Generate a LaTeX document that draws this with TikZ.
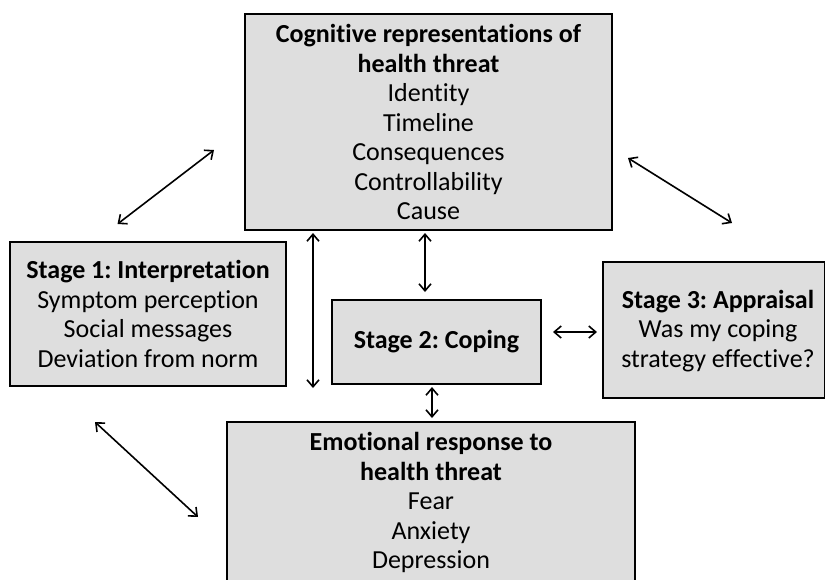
\documentclass[tikz,border=0pt]{standalone}
\usepackage{fontspec}
\setmainfont{Carlito}[Ligatures={NoCommon}]
\usetikzlibrary{arrows.meta}
\definecolor{boxfill}{RGB}{222,222,222}
\tikzset{
  box/.style={draw=black, line width=2pt, fill=boxfill, inner sep=0pt, align=center,
    font=\fontsize{26}{29.5}\selectfont\frenchspacing},
  txt/.style={inner sep=0pt, align=center, font=\fontsize{26}{29.5}\selectfont\frenchspacing},
  dbl/.style={line width=1.6pt, {Straight Barb[length=7pt,width=12pt]}-{Straight Barb[length=7pt,width=12pt]}}
}
\begin{document}
\begin{tikzpicture}[x=1pt,y=-1pt]
\useasboundingbox (0,0) rectangle (825,579);
% boxes
\node[box, minimum width=367, minimum height=216] (cog) at (428.5,122)
  {\textbf{Cognitive representations of}\\\textbf{health threat}\\Identity\\Timeline\\Consequences\\Controllability\\Cause};
\node[box, minimum width=276, minimum height=144] (s1) at (148,314)
  {\textbf{Stage 1: Interpretation}\\Symptom perception\\Social messages\\Deviation from norm};
\node[box, minimum width=209, minimum height=84] (s2) at (436.5,342)
  {\textbf{Stage 2: Coping}};
\node[box, minimum width=222, minimum height=136] (s3) at (714,330) {};
\node[txt] (s3text) at (718,331)
  {\textbf{Stage 3: Appraisal}\\Was my coping\\strategy effective?};
\node[box, minimum width=408, minimum height=200] (emo) at (431,522) {};
\node[txt] (emotext) at (431,502.5)
  {\textbf{Emotional response to}\\\textbf{health threat}\\Fear\\Anxiety\\Depression};
% arrow end points
\coordinate (a1) at (117.5,224);
\coordinate (b1) at (214,150);
\coordinate (a2) at (95,422);
\coordinate (b2) at (198,517);
\coordinate (a3) at (628,158);
\coordinate (b3) at (732,223);
\coordinate (v1a) at (313,233);
\coordinate (v1b) at (313,388);
\coordinate (v2a) at (425,233);
\coordinate (v2b) at (425,292);
\coordinate (v3a) at (432,387);
\coordinate (v3b) at (432,418);
\coordinate (ha) at (553,332);
\coordinate (hb) at (597,332);
% connectors
\draw[dbl] (a1) -- (b1);
\draw[dbl] (a2) -- (b2);
\draw[dbl] (a3) -- (b3);
\draw[dbl] (v1a) -- (v1b);
\draw[dbl] (v2a) -- (v2b);
\draw[dbl] (v3a) -- (v3b);
\draw[dbl] (ha) -- (hb);
\end{tikzpicture}
\end{document}
